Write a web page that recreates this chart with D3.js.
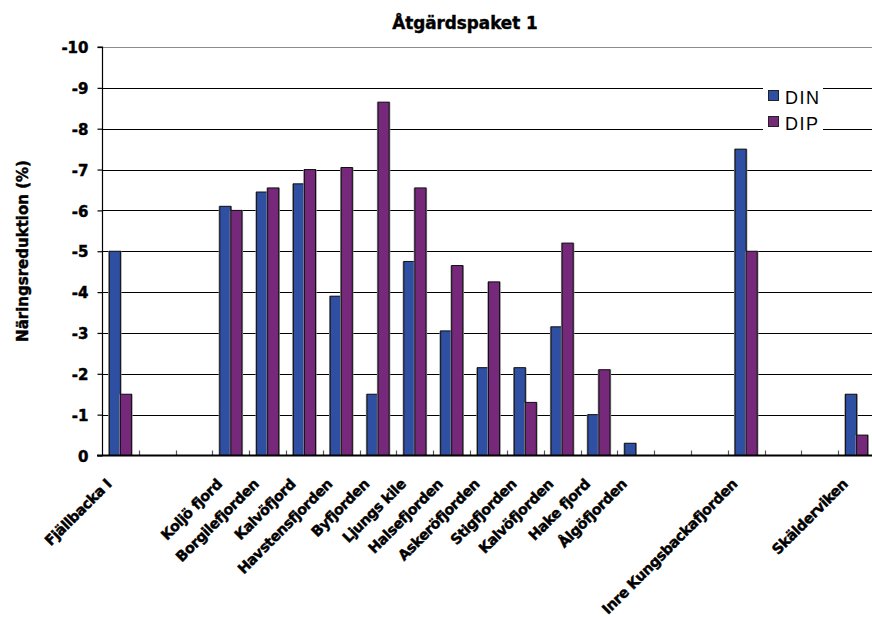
<!DOCTYPE html>
<html>
<head>
<meta charset="utf-8">
<script src="https://cdn.jsdelivr.net/npm/d3@7"></script>
<style>
  body { margin: 0; background: #fff; }
  svg { display: block; }
</style>
</head>
<body>
<svg id="chart" width="872" height="617"></svg>
<script>
// Fjord areas along the x axis (blank slots keep the spacing of the original series)
const categories = [
  "Fjällbacka I", "", "", "Koljö fjord", "Borgilefjorden", "Kalvöfjord",
  "Havstensfjorden", "Byfjorden", "Ljungs kile", "Halsefjorden", "Askeröfjorden",
  "Stigfjorden", "Kalvöfjorden", "Hake fjord", "Ålgöfjorden", "", "",
  "Inre Kungsbackafjorden", "", "", "Skälderviken"
];

// Nutrient reduction (%) per area
const dinValues = [-5.0, null, null, -6.1, -6.45, -6.65, -3.9, -1.5, -4.75, -3.05, -2.15,
                   -2.15, -3.15, -1.0, -0.3, null, null, -7.5, null, null, -1.5];
const dipValues = [-1.5, null, null, -6.0, -6.55, -7.0, -7.05, -8.65, -6.55, -4.65, -4.25,
                   -1.3, -5.2, -2.1, null, null, null, -5.0, null, null, -0.5];

const seriesNames = ["DIN", "DIP"];
const seriesColors = ["#2F4FA2", "#76287A"];
const yTickValues = [0, -1, -2, -3, -4, -5, -6, -7, -8, -9, -10];

const titleText = "Åtgärdspaket 1";
const yTitleText = "Näringsreduktion (%)";

const svg = d3.select("#chart");

const plot = { left: 102, right: 875, top: 47, bottom: 455.5 };

const x = d3.scaleBand()
  .domain(d3.range(categories.length))
  .range([plot.left, plot.right])
  .paddingInner(0).paddingOuter(0);

const y = d3.scaleLinear()
  .domain([0, -10])
  .range([plot.bottom, plot.top]);

const bw = x.bandwidth();
const barW = bw * 0.3;
const groupOffset = (bw - 2 * barW) / 2;

// heavy bold text helper
function heavy(sel, size) {
  return sel
    .attr("font-family", "'DejaVu Sans', sans-serif")
    .attr("font-weight", "bold")
    .attr("font-size", size)
    .attr("fill", "#000")
    .attr("stroke", "#000")
    .attr("stroke-width", 0.45);
}

// Gridlines
svg.append("g")
  .selectAll("line")
  .data(yTickValues.filter(d => d !== 0))
  .join("line")
  .attr("x1", plot.left).attr("x2", 872)
  .attr("y1", d => Math.round(y(d)) + 0.5).attr("y2", d => Math.round(y(d)) + 0.5)
  .attr("stroke", d => d === -10 ? "#8c8c8c" : "#000")
  .attr("stroke-width", 1);

// Bars
const series = [dinValues, dipValues];
const barsG = svg.append("g");
series.forEach((vals, si) => {
  const data = vals.map((v, i) => ({ i, v })).filter(d => d.v !== null);
  const xPos = d => x(d.i) + groupOffset + si * barW;
  // soft grey edge around each bar
  barsG.append("g").selectAll("rect")
    .data(data)
    .join("rect")
    .attr("x", d => xPos(d) - 1.2)
    .attr("y", d => y(d.v))
    .attr("width", barW + 2.4)
    .attr("height", d => y(0) - y(d.v))
    .attr("fill", "#8f8f8f");
  barsG.append("g").selectAll("rect")
    .data(data)
    .join("rect")
    .attr("x", d => xPos(d))
    .attr("y", d => y(d.v))
    .attr("width", barW)
    .attr("height", d => y(0) - y(d.v))
    .attr("fill", seriesColors[si])
    .attr("stroke", "#111")
    .attr("stroke-width", 1);
});

// X axis baseline and inner tick marks
const xAxisG = svg.append("g");
xAxisG.selectAll("line.tick")
  .data(d3.range(1, categories.length))
  .join("line")
  .attr("class", "tick")
  .attr("x1", d => Math.round(x(d)) + 0.5).attr("x2", d => Math.round(x(d)) + 0.5)
  .attr("y1", plot.bottom).attr("y2", plot.bottom - 5)
  .attr("stroke", "#555").attr("stroke-width", 1.2);
xAxisG.append("line")
  .attr("x1", plot.left - 5).attr("x2", 872)
  .attr("y1", plot.bottom).attr("y2", plot.bottom)
  .attr("stroke", "#000").attr("stroke-width", 2);

// Y axis
const yAxis = d3.axisLeft(y)
  .tickValues(yTickValues)
  .tickSize(5)
  .tickPadding(9)
  .tickFormat(d => d3.format("d")(d).replace("−", "-"));
const yAxisG = svg.append("g")
  .attr("transform", `translate(${plot.left + 0.5},0)`)
  .call(yAxis);
yAxisG.select(".domain").attr("stroke", "#000").attr("stroke-width", 1.2)
  .attr("d", `M-5,${plot.top}H0V${plot.bottom}`);
yAxisG.selectAll(".tick line").attr("stroke", "#000").attr("stroke-width", 1.2);
heavy(yAxisG.selectAll(".tick text"), 15)
  .attr("dy", "0.38em");

// Category labels, rotated
heavy(svg.append("g")
  .selectAll("text")
  .data(categories.map((c, i) => ({ c, i })).filter(d => d.c !== ""))
  .join("text")
  .attr("transform", d => `translate(${x(d.i) + bw / 2 - 8},${485}) rotate(-45)`)
  .attr("text-anchor", "end")
  .attr("letter-spacing", "-0.4px")
  .text(d => d.c), 14.3);

// Title
heavy(svg.append("text")
  .attr("x", 465).attr("y", 29)
  .attr("text-anchor", "middle")
  .text(titleText), 16.8);

// Y axis title
heavy(svg.append("text")
  .attr("transform", "translate(28,251) rotate(-90)")
  .attr("text-anchor", "middle")
  .text(yTitleText), 15);

// Legend
const legend = svg.append("g").attr("transform", "translate(763,74)");
legend.append("rect")
  .attr("x", 0).attr("y", 0).attr("width", 60).attr("height", 66)
  .attr("fill", "#fff");
seriesNames.forEach((name, i) => {
  const row = legend.append("g").attr("transform", `translate(0,${23 + i * 26})`);
  row.append("rect")
    .attr("x", 5.5).attr("y", -6.5).attr("width", 10).attr("height", 10)
    .attr("fill", seriesColors[i]).attr("stroke", "#222").attr("stroke-width", 1);
  row.append("text")
    .attr("x", 22).attr("y", 6.5)
    .attr("font-family", "'Liberation Sans', Arial, sans-serif")
    .attr("font-size", 18)
    .attr("letter-spacing", "1.5px")
    .attr("fill", "#000")
    .text(name);
});
</script>
</body>
</html>
